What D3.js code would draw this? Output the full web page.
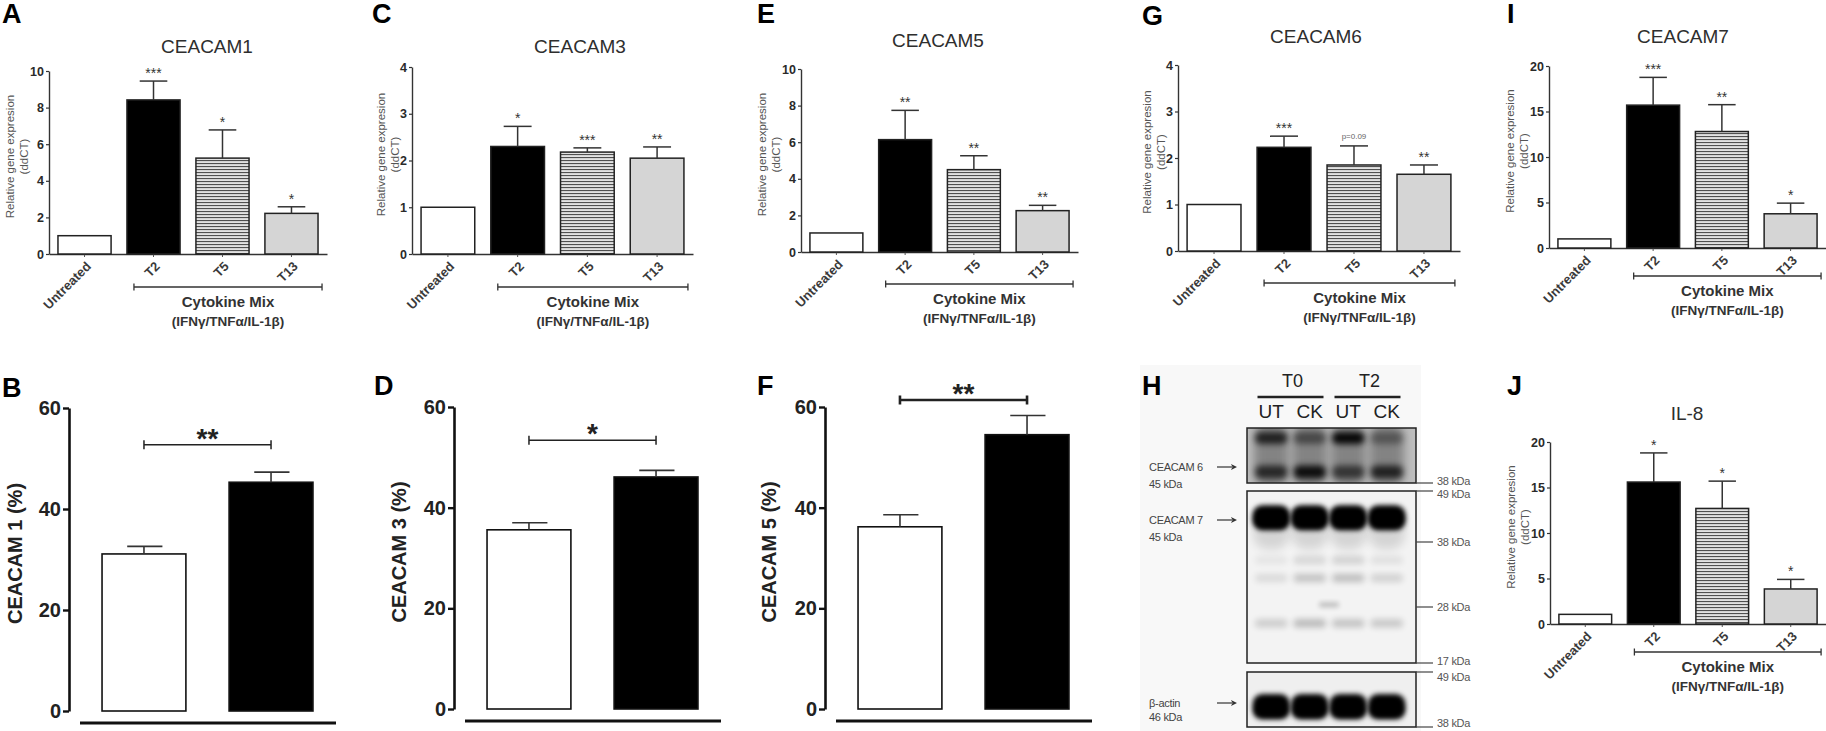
<!DOCTYPE html>
<html lang="en">
<head>
<meta charset="UTF-8">
<title>CEACAM expression after cytokine stimulation</title>
<script src="https://d3js.org/d3.v7.min.js"></script>
<style>
    body { margin: 0; background: #fff; }
    text { font-family: 'Liberation Sans', Arial, sans-serif; }
    .letter { font-size: 27px; font-weight: bold; fill: #000; }
    .title { font-size: 19px; fill: #2e2e2e; }
    .ytk text { font-size: 12.5px; font-weight: bold; fill: #2a2a2a; }
    .xtk text { font-size: 13px; font-weight: bold; fill: #3a3a3a; }
    .ylab { font-size: 11.5px; fill: #555; }
    .stars { font-size: 14px; fill: #333; }
    .pval { font-size: 8px; fill: #666; }
    .mix { font-size: 15px; font-weight: bold; fill: #333; }
    .mix2 { font-size: 13.5px; font-weight: bold; fill: #333; }
    .pytk text { font-size: 20px; font-weight: bold; fill: #222; }
    .pylab { font-size: 20px; font-weight: bold; fill: #222; }
    .pstars { font-size: 28px; font-weight: bold; fill: #222; }
    .blot { font-family: 'Open Sans', sans-serif; }
    .lane { font-size: 19px; fill: #222; }
    .time { font-size: 18px; fill: #222; }
    .wb { font-size: 11px; fill: #444; letter-spacing: -0.3px; }
    .kda { font-size: 11px; fill: #555; letter-spacing: -0.3px; }
</style>
</head>
<body>
<script>

    const width = 1826;
    const height = 731;

    // qPCR groups (relative gene expression, ddCT)
    const groups = ['Untreated', 'T2', 'T5', 'T13'];

    const cc1Mean = [1.0, 8.42, 5.24, 2.22];
    const cc1Err = [0, 1.03, 1.54, 0.36];
    const cc1Stars = ['', '***', '*', '*'];

    const cc3Mean = [1.0, 2.30, 2.18, 2.05];
    const cc3Err = [0, 0.43, 0.09, 0.24];
    const cc3Stars = ['', '*', '***', '**'];

    const cc5Mean = [1.04, 6.14, 4.50, 2.26];
    const cc5Err = [0, 1.60, 0.76, 0.29];
    const cc5Stars = ['', '**', '**', '**'];

    const cc6Mean = [1.0, 2.23, 1.85, 1.65];
    const cc6Err = [0, 0.24, 0.41, 0.20];
    const cc6Stars = ['', '***', 'p=0.09', '**'];

    const cc7Mean = [1.0, 15.7, 12.8, 3.76];
    const cc7Err = [0, 3.05, 2.95, 1.17];
    const cc7Stars = ['', '***', '**', '*'];

    const il8Mean = [1.06, 15.6, 12.7, 3.85];
    const il8Err = [0, 3.2, 3.0, 1.05];
    const il8Stars = ['', '*', '*', '*'];

    // flow cytometry (% positive cells)
    const pctGroups = ['Untreated', 'Cytokine'];
    const pctTicks = [0, 20, 40, 60];
    const cc1Pct = [31.1, 45.3];
    const cc1PctErr = [1.5, 2.0];
    const cc3Pct = [35.6, 46.1];
    const cc3PctErr = [1.4, 1.3];
    const cc5Pct = [36.2, 54.5];
    const cc5PctErr = [2.4, 3.8];

    // western blot
    const blotTimes = ['T0', 'T2'];
    const blotLanes = ['UT', 'CK', 'UT', 'CK'];
    const c6Upper = [0.75, 0.45, 0.95, 0.35];
    const c6Lower = [0.7, 0.9, 0.6, 0.75];
    const c7Main = [1, 1, 1, 1];
    const c7FaintKda = [34.9, 32.1, 24.2];
    const c7Faint = [[0.06, 0.12, 0.14, 0.08], [0.1, 0.2, 0.22, 0.14], [0.16, 0.24, 0.2, 0.18]];
    const actin = [1, 1, 1, 1];
    const markerKda = ['38 kDa', '49 kDa', '38 kDa', '28 kDa', '17 kDa', '49 kDa', '38 kDa'];

    // panel layout
    const topLayout = [
        {x: 49, w: 278, yTop: 71, y0: 254, letter: [2, 23], title: [207, 53], bracketY: 287},
        {x: 412, w: 281, yTop: 67, y0: 254, letter: [372, 23], title: [580, 53], bracketY: 287},
        {x: 801, w: 277, yTop: 69, y0: 252, letter: [757, 23], title: [938, 47], bracketY: 284},
        {x: 1178, w: 282, yTop: 65, y0: 251, letter: [1142, 25], title: [1316, 43], bracketY: 283},
        {x: 1549, w: 277, yTop: 66, y0: 248, letter: [1507, 23], title: [1683, 43], bracketY: 276},
        {x: 1550, w: 276, yTop: 442, y0: 624, letter: [1507, 395], title: [1687, 420], bracketY: 652}
    ];
    const botLayout = [
        {x: 69, w: 277, yTop: 408, y0: 711, letter: [2, 397], labelX: 22},
        {x: 454, w: 277, yTop: 407, y0: 709, letter: [374, 395], labelX: 406},
        {x: 825, w: 277, yTop: 407, y0: 709, letter: [757, 395], labelX: 776}
    ];

    const barFill = ['#fff', '#000', 'url(#stripes)', '#d5d5d5'];

    let svg = d3.select('body').append('svg')
        .attr('width', width)
        .attr('height', height);

    let defs = svg.append('defs');
    let pat = defs.append('pattern')
        .attr('id', 'stripes')
        .attr('patternUnits', 'userSpaceOnUse')
        .attr('width', 8)
        .attr('height', 3);
    pat.append('rect').attr('width', 8).attr('height', 3).attr('fill', '#e2e2e2');
    pat.append('rect').attr('y', 1).attr('width', 8).attr('height', 1.1).attr('fill', '#505050');

    [['b2', 2.4], ['b3', 3.2], ['b5', 5]].forEach(function(f) {
        defs.append('filter').attr('id', f[0])
            .attr('x', '-50%').attr('y', '-80%').attr('width', '200%').attr('height', '260%')
            .append('feGaussianBlur').attr('stdDeviation', f[1]);
    });

    topPanel('A', 'CEACAM1', cc1Mean, cc1Err, cc1Stars, 10, 2, topLayout[0]);
    topPanel('C', 'CEACAM3', cc3Mean, cc3Err, cc3Stars, 4, 1, topLayout[1]);
    topPanel('E', 'CEACAM5', cc5Mean, cc5Err, cc5Stars, 10, 2, topLayout[2]);
    topPanel('G', 'CEACAM6', cc6Mean, cc6Err, cc6Stars, 4, 1, topLayout[3]);
    topPanel('I', 'CEACAM7', cc7Mean, cc7Err, cc7Stars, 20, 5, topLayout[4]);
    topPanel('J', 'IL-8', il8Mean, il8Err, il8Stars, 20, 5, topLayout[5]);

    pctPanel('B', 'CEACAM 1 (%)', cc1Pct, cc1PctErr, '**', 52.7, 1.5, botLayout[0]);
    pctPanel('D', 'CEACAM 3 (%)', cc3Pct, cc3PctErr, '*', 53.4, 1.5, botLayout[1]);
    pctPanel('F', 'CEACAM 5 (%)', cc5Pct, cc5PctErr, '**', 61.4, 2.6, botLayout[2]);

    drawBlot();

    function topPanel(letter, title, mean, err, stars, yMax, yStep, L) {
        let g = svg.append('g');
        let x = d3.scaleBand().domain(groups).range([L.x, L.x + L.w])
            .paddingInner(0.23).paddingOuter(0.13);
        let y = d3.scaleLinear().domain([0, yMax]).range([L.y0, L.yTop]);
        let bw = x.bandwidth();

        let ya = g.append('g')
            .attr('class', 'ytk')
            .attr('transform', 'translate(' + L.x + ',0)')
            .call(d3.axisLeft(y).tickValues(d3.range(0, yMax + 1e-9, yStep))
                .tickFormat(d3.format('d'))
                .tickSize(3).tickSizeOuter(0).tickPadding(2));
        ya.select('.domain').attr('stroke', '#333').attr('stroke-width', 1.4);
        ya.selectAll('.tick line').attr('stroke', '#333').attr('stroke-width', 1.2);

        let xa = g.append('g')
            .attr('class', 'xtk')
            .attr('transform', 'translate(0,' + L.y0 + ')')
            .call(d3.axisBottom(x).tickSize(3).tickSizeOuter(0));
        xa.select('.domain').attr('stroke', '#333').attr('stroke-width', 1.4);
        xa.selectAll('.tick line').attr('stroke', '#555').attr('stroke-width', 1);
        xa.selectAll('.tick text')
            .attr('x', 0).attr('y', 0).attr('dy', '0.35em')
            .attr('text-anchor', 'end')
            .attr('transform', 'translate(4,10) rotate(-45)');

        g.selectAll('.bar').data(groups).enter().append('rect')
            .attr('x', function(d) { return x(d); })
            .attr('y', function(d, i) { return y(mean[i]); })
            .attr('width', bw)
            .attr('height', function(d, i) { return L.y0 - y(mean[i]); })
            .attr('fill', function(d, i) { return barFill[i]; })
            .attr('stroke', '#222')
            .attr('stroke-width', 1.5);

        groups.forEach(function(d, i) {
            let cx = x(d) + bw / 2;
            if (err[i] > 0) {
                let yt = y(mean[i] + err[i]);
                g.append('line').attr('x1', cx).attr('x2', cx)
                    .attr('y1', y(mean[i])).attr('y2', yt)
                    .attr('stroke', '#333').attr('stroke-width', 1.5);
                g.append('line').attr('x1', cx - bw * 0.26).attr('x2', cx + bw * 0.26)
                    .attr('y1', yt).attr('y2', yt)
                    .attr('stroke', '#333').attr('stroke-width', 1.5);
            }
            if (stars[i]) {
                let isP = stars[i].indexOf('p') === 0;
                g.append('text')
                    .attr('class', isP ? 'pval' : 'stars')
                    .attr('x', cx)
                    .attr('y', y(mean[i] + err[i]) - (isP ? 7 : 3))
                    .attr('text-anchor', 'middle')
                    .text(stars[i]);
            }
        });

        // cytokine bracket
        let bx0 = x('T2') + 7;
        let bx1 = x('T13') + bw + 4;
        g.append('path')
            .attr('d', 'M' + bx0 + ',' + (L.bracketY - 3.5) + 'V' + (L.bracketY + 3.5) +
                'M' + bx0 + ',' + L.bracketY + 'H' + bx1 +
                'M' + bx1 + ',' + (L.bracketY - 3.5) + 'V' + (L.bracketY + 3.5))
            .attr('fill', 'none').attr('stroke', '#333').attr('stroke-width', 1.3);
        g.append('text').attr('class', 'mix')
            .attr('x', (bx0 + bx1) / 2).attr('y', L.bracketY + 20)
            .attr('text-anchor', 'middle').text('Cytokine Mix');
        g.append('text').attr('class', 'mix2')
            .attr('x', (bx0 + bx1) / 2).attr('y', L.bracketY + 39)
            .attr('text-anchor', 'middle').text('(IFNγ/TNFα/IL-1β)');

        // y label
        let twoDigits = yMax >= 10;
        let cy = (L.yTop + L.y0) / 2 - 6;
        let lx1 = L.x - (twoDigits ? 35 : 27);
        let lx2 = L.x - (twoDigits ? 21 : 13);
        g.append('text').attr('class', 'ylab')
            .attr('transform', 'translate(' + lx1 + ',' + cy + ') rotate(-90)')
            .attr('text-anchor', 'middle').text('Relative gene expresion');
        g.append('text').attr('class', 'ylab')
            .attr('transform', 'translate(' + lx2 + ',' + cy + ') rotate(-90)')
            .attr('text-anchor', 'middle').text('(ddCT)');

        g.append('text').attr('class', 'title')
            .attr('x', L.title[0]).attr('y', L.title[1])
            .attr('text-anchor', 'middle').text(title);
        g.append('text').attr('class', 'letter')
            .attr('x', L.letter[0]).attr('y', L.letter[1]).text(letter);
    }

    function pctPanel(letter, label, mean, err, sig, sigLevel, sigWidth, L) {
        let g = svg.append('g');
        let x = d3.scaleBand().domain(pctGroups).range([L.x, L.x + L.w])
            .paddingInner(0.34).paddingOuter(0.26);
        let y = d3.scaleLinear().domain([0, 60]).range([L.y0, L.yTop]);
        let bw = x.bandwidth();

        let ya = g.append('g')
            .attr('class', 'pytk')
            .attr('transform', 'translate(' + L.x + ',0)')
            .call(d3.axisLeft(y).tickValues(pctTicks).tickSize(6).tickSizeOuter(0).tickPadding(2));
        ya.select('.domain').attr('stroke', '#111').attr('stroke-width', 2.6);
        ya.selectAll('.tick line').attr('stroke', '#111').attr('stroke-width', 2.4);

        g.selectAll('.bar').data(pctGroups).enter().append('rect')
            .attr('x', function(d) { return x(d); })
            .attr('y', function(d, i) { return y(mean[i]); })
            .attr('width', bw)
            .attr('height', function(d, i) { return L.y0 - y(mean[i]); })
            .attr('fill', function(d, i) { return i === 0 ? '#fff' : '#000'; })
            .attr('stroke', '#111')
            .attr('stroke-width', 1.6);

        pctGroups.forEach(function(d, i) {
            let cx = x(d) + bw / 2;
            let yt = y(mean[i] + err[i]);
            g.append('line').attr('x1', cx).attr('x2', cx)
                .attr('y1', y(mean[i])).attr('y2', yt)
                .attr('stroke', '#333').attr('stroke-width', 1.6);
            g.append('line').attr('x1', cx - bw * 0.2).attr('x2', cx + bw * 0.22)
                .attr('y1', yt).attr('y2', yt)
                .attr('stroke', '#333').attr('stroke-width', 1.6);
        });

        // group rule under the bars
        g.append('line')
            .attr('x1', L.x + 11).attr('x2', L.x + L.w - 10)
            .attr('y1', L.y0 + 12).attr('y2', L.y0 + 12)
            .attr('stroke', '#111').attr('stroke-width', 3);

        // significance bracket
        let c0 = x(pctGroups[0]) + bw / 2;
        let c1 = x(pctGroups[1]) + bw / 2;
        let sy = y(sigLevel);
        g.append('path')
            .attr('d', 'M' + c0 + ',' + (sy - 4.5) + 'V' + (sy + 4.5) + 'M' + c0 + ',' + sy + 'H' + c1 +
                'M' + c1 + ',' + (sy - 4.5) + 'V' + (sy + 4.5))
            .attr('fill', 'none').attr('stroke', '#222').attr('stroke-width', sigWidth);
        g.append('text').attr('class', 'pstars')
            .attr('x', (c0 + c1) / 2).attr('y', sy + 3)
            .attr('text-anchor', 'middle').text(sig);

        g.append('text').attr('class', 'pylab')
            .attr('transform', 'translate(' + L.labelX + ',' + ((L.yTop + L.y0) / 2 - 6) + ') rotate(-90)')
            .attr('text-anchor', 'middle').text(label);
        g.append('text').attr('class', 'letter')
            .attr('x', L.letter[0]).attr('y', L.letter[1]).text(letter);
    }

    function drawBlot() {
        let g = svg.append('g').attr('class', 'blot');
        const boxX = [1247, 1416];
        const boxY = [[428, 483], [491, 663], [672, 727]];
        const boxFill = ['#bdbdbd', '#f3f3f3', '#efefef'];
        const markerY = [483, 491, 542, 607, 663, 672, 727];
        const markerNudge = [-2, 3, 0, 0, -2, 5, -4];

        g.append('rect').attr('x', 1140).attr('y', 365).attr('width', 281).attr('height', 366)
            .attr('fill', '#f8f8f8');

        let lane = d3.scaleBand().domain(d3.range(blotLanes.length)).range([1252, 1406]);
        let lc = function(i) { return lane(i) + lane.bandwidth() / 2; };
        // molecular weight scale of the CEACAM7 membrane
        let mw = d3.scaleLog().domain([49, 38, 28, 17]).range([491, 542, 607, 663]);

        boxY.forEach(function(b, k) {
            defs.append('clipPath').attr('id', 'box' + k)
                .append('rect').attr('x', boxX[0]).attr('y', b[0])
                .attr('width', boxX[1] - boxX[0]).attr('height', b[1] - b[0]);
        });

        function band(parent, cx, cy, w, h, op, blur) {
            parent.append('rect')
                .attr('x', cx - w / 2).attr('y', cy - h / 2)
                .attr('width', w).attr('height', h)
                .attr('rx', Math.min(w, h) / 2.5)
                .attr('fill', '#000').attr('opacity', op)
                .attr('filter', 'url(#' + blur + ')');
        }

        let membranes = boxY.map(function(b, k) {
            let m = g.append('g').attr('clip-path', 'url(#box' + k + ')');
            m.append('rect').attr('x', boxX[0]).attr('y', b[0])
                .attr('width', boxX[1] - boxX[0]).attr('height', b[1] - b[0])
                .attr('fill', boxFill[k]);
            return m;
        });

        blotLanes.forEach(function(d, i) {
            let cx = lc(i);
            // CEACAM6
            band(membranes[0], cx, 455, 34, 64, 0.3, 'b5');
            band(membranes[0], cx, 438, 32, 12, c6Upper[i], 'b3');
            band(membranes[0], cx, 472, 32, 13, c6Lower[i], 'b3');
            // CEACAM7
            band(membranes[1], cx, mw(43), 37, 24, c7Main[i], 'b2');
            band(membranes[1], cx, mw(43) + 3, 32, 16, c7Main[i], 'b3');
            band(membranes[1], cx, mw(43) + 12, 36, 40, 0.12, 'b5');
            c7FaintKda.forEach(function(k, j) {
                band(membranes[1], cx, mw(k), 32, 8, c7Faint[j][i], 'b3');
            });
            // beta-actin
            band(membranes[2], cx, 706, 37, 24, actin[i], 'b2');
            band(membranes[2], cx, 711, 32, 14, actin[i], 'b3');
        });
        band(membranes[1], (lc(1) + lc(2)) / 2, mw(28.3), 20, 5, 0.22, 'b2');

        boxY.forEach(function(b) {
            g.append('rect').attr('x', boxX[0]).attr('y', b[0])
                .attr('width', boxX[1] - boxX[0]).attr('height', b[1] - b[0])
                .attr('fill', 'none').attr('stroke', '#222').attr('stroke-width', 1.5);
        });

        // lane headers
        blotTimes.forEach(function(t, k) {
            let mid = (lc(2 * k) + lc(2 * k + 1)) / 2;
            g.append('text').attr('class', 'time').attr('x', mid + 2).attr('y', 387)
                .attr('text-anchor', 'middle').text(t);
            g.append('line').attr('x1', mid - 33).attr('x2', mid + 33)
                .attr('y1', 397).attr('y2', 397)
                .attr('stroke', '#222').attr('stroke-width', 2.5);
        });
        blotLanes.forEach(function(d, i) {
            g.append('text').attr('class', 'lane').attr('x', lc(i)).attr('y', 418)
                .attr('text-anchor', 'middle').text(d);
        });

        // left labels with arrows
        const leftLabels = [['CEACAM 6', '45 kDa', 467], ['CEACAM 7', '45 kDa', 520], ['β-actin', '46 kDa', 703]];
        leftLabels.forEach(function(l) {
            g.append('text').attr('class', 'wb').attr('x', 1149).attr('y', l[2] + 4).text(l[0]);
            g.append('text').attr('class', 'wb').attr('x', 1149).attr('y', l[2] + (l[0] === 'β-actin' ? 18 : 21)).text(l[1]);
            g.append('line').attr('x1', 1217).attr('x2', 1232).attr('y1', l[2]).attr('y2', l[2])
                .attr('stroke', '#333').attr('stroke-width', 1.2);
            g.append('path').attr('d', 'M1237,' + l[2] + 'l-6,-3l1.5,3l-1.5,3z').attr('fill', '#333');
        });

        // marker ladder on the right
        markerKda.forEach(function(m, i) {
            g.append('line').attr('x1', boxX[1]).attr('x2', 1433)
                .attr('y1', markerY[i]).attr('y2', markerY[i])
                .attr('stroke', '#444').attr('stroke-width', 1.2);
            g.append('text').attr('class', 'kda').attr('x', 1437)
                .attr('y', markerY[i] + markerNudge[i] + 4).text(m);
        });

        g.append('text').attr('class', 'letter').attr('x', 1142).attr('y', 395)
            .style('font-family', "'Liberation Sans', Arial, sans-serif").text('H');
    }

</script>
</body>
</html>
